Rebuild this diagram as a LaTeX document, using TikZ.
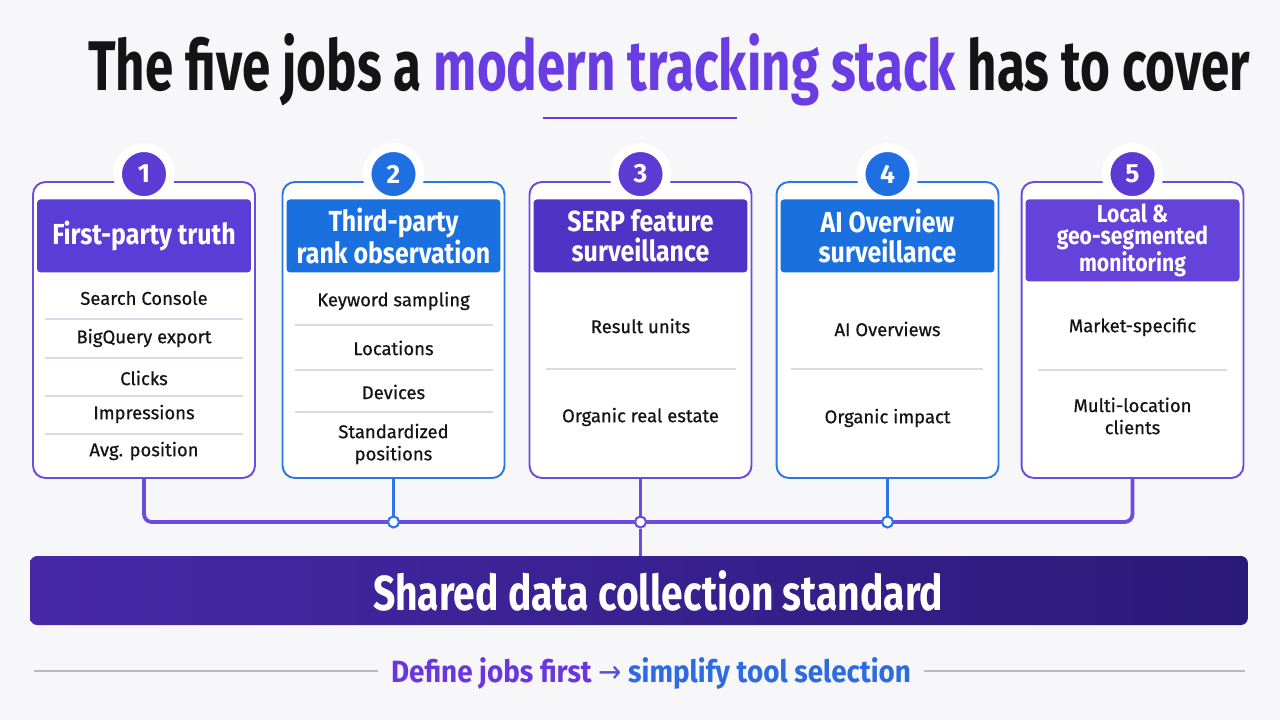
\documentclass[tikz,border=0pt]{standalone}
\usepackage{fontspec}
\usepackage{graphicx}
\setmainfont{Fira Sans}
\newfontfamily\condfont[FakeStretch=0.86]{Fira Sans}
\newfontfamily\itemfont[FakeBold=0.6]{Fira Sans}
\newfontfamily\symfont{DejaVu Sans}
\usetikzlibrary{positioning}

\definecolor{bgc}{HTML}{F7F7FA}
\definecolor{ink}{HTML}{141414}
\definecolor{pviolet}{HTML}{6A3DE2}
\definecolor{cardP}{HTML}{6B4CE0}
\definecolor{cardB}{HTML}{2B78E4}
\definecolor{headP}{HTML}{5A3DD6}
\definecolor{headB}{HTML}{1B70E0}
\definecolor{headPd}{HTML}{4E34C4}
\definecolor{headPl}{HTML}{6543DA}
\definecolor{numP}{HTML}{5B3BD4}
\definecolor{numB}{HTML}{1F6FE3}
\definecolor{barL}{HTML}{4628A8}
\definecolor{barR}{HTML}{2A1A78}
\definecolor{sepc}{HTML}{DADAE2}
\definecolor{rulec}{HTML}{B8B8BE}
\definecolor{footP}{HTML}{6A36E0}
\definecolor{footB}{HTML}{2E6BE0}
\definecolor{footA}{HTML}{5553D8}

\newcommand{\fitw}[2]{\resizebox{#1}{\height}{#2}}

\begin{document}
\begin{tikzpicture}[
    x=0.02cm, y=-0.02cm,
    card/.style={rectangle, draw, line width=1.1pt, rounded corners=7pt, fill=white,
                 minimum width=4.44cm, minimum height=5.92cm},
    head/.style={rectangle, rounded corners=2pt, text=white, align=center,
                 minimum width=4.28cm, minimum height=1.46cm, inner sep=1pt,
                 font=\condfont\bfseries\fontsize{16.5}{17}\selectfont},
    num/.style={circle, draw=white, line width=5pt, text=white, inner sep=0pt,
                minimum size=1.06cm, font=\bfseries\fontsize{15}{15}\selectfont},
    item/.style={text=ink, align=center, inner sep=1pt,
                 font=\itemfont\fontsize{10.5}{12.6}\selectfont},
    sep/.style={draw=sepc, line width=0.6pt},
    bus/.style={draw=cardP, line width=2.2pt, rounded corners=4.5pt},
    wire/.style={line width=1.4pt},
    dot/.style={circle, fill=white, draw, line width=1.2pt, inner sep=0pt, minimum size=0.22cm},
    bar/.style={rectangle, rounded corners=4pt, left color=barL, right color=barR,
                minimum width=24.36cm, minimum height=1.38cm, text=white}
]
\fill[bgc] (0,0) rectangle (1280,720);
\useasboundingbox (0,0) rectangle (1280,720);

% Title and underline
\node[anchor=base, text=ink] (title) at (669,90)
  {\fitw{23.24cm}{\bfseries\fontsize{40}{44}\selectfont The five jobs a \textcolor{pviolet}{modern tracking stack} has to cover}};
\draw[pviolet, line width=1.6pt] (543,118) -- (737,118);

% Five job cards
\node[card, draw=cardP] (c1) at (144,330) {};
\node[card, draw=cardB] (c2) at (393.5,330) {};
\node[card, draw=cardP] (c3) at (640.5,330) {};
\node[card, draw=cardB] (c4) at (887.5,330) {};
\node[card, draw=cardP] (c5) at (1132.5,330) {};

% Numbers sitting on the top edge
\node[num, fill=numP] (n1) at ([yshift=0.14cm]c1.north) {1};
\node[num, fill=numB] (n2) at ([yshift=0.14cm]c2.north) {2};
\node[num, fill=numP] (n3) at ([yshift=0.14cm]c3.north) {3};
\node[num, fill=numB] (n4) at ([yshift=0.14cm]c4.north) {4};
\node[num, fill=numP] (n5) at ([yshift=0.14cm]c5.north) {5};

% Header bands
\node[head, fill=headP, below=0.36cm of c1.north] (h1) {First-party truth};
\node[head, fill=headB, below=0.36cm of c2.north] (h2) {Third-party\\rank observation};
\node[head, fill=headPd, below=0.36cm of c3.north] (h3) {SERP feature\\surveillance};
\node[head, fill=headB, below=0.36cm of c4.north] (h4) {AI Overview\\surveillance};
\node[head, fill=headPl, below=0.36cm of c5.north, minimum height=1.64cm,
      font=\condfont\bfseries\fontsize{14}{12.6}\selectfont] (h5) {Local \&\\geo-segmented\\monitoring};

% Card 1 items
\node[item] (i11) at (144,298) {Search Console};
\node[item] (i12) at (144,338) {BigQuery export};
\node[item] (i13) at (144,378) {Clicks};
\node[item] (i14) at (144,414) {Impressions};
\node[item] (i15) at (144,451) {Avg. position};
\draw[sep] (45,319) -- (243,319);
\draw[sep] (45,358) -- (243,358);
\draw[sep] (45,396) -- (243,396);
\draw[sep] (45,434) -- (243,434);

% Card 2 items
\node[item] (i21) at (393.5,301) {Keyword sampling};
\node[item] (i22) at (393.5,348) {Locations};
\node[item] (i23) at (393.5,392) {Devices};
\node[item] (i24) at (393.5,444) {Standardized\\positions};
\draw[sep] (295,325) -- (493,325);
\draw[sep] (295,370) -- (493,370);
\draw[sep] (295,412) -- (493,412);

% Card 3 items
\node[item] (i31) at (640.5,326) {Result units};
\node[item] (i32) at (640.5,417) {Organic real estate};
\draw[sep] (546,369) -- (736,369);

% Card 4 items
\node[item] (i41) at (887.5,329) {AI Overviews};
\node[item] (i42) at (887.5,418) {Organic impact};
\draw[sep] (791,369) -- (983,369);

% Card 5 items
\node[item] (i51) at (1132.5,327) {Market-specific};
\node[item] (i52) at (1132.5,416) {Multi-location\\clients};
\draw[sep] (1038,370) -- (1227,370);

% Bus joining the cards, junction dots on top of it
\coordinate (busy) at (0,522);
\coordinate (m3) at (c3.south |- busy);
\draw[bus] (c1.south) |- (m3) -| (c5.south);
\draw[wire, cardB] (c2.south) -- (c2.south |- busy);
\draw[wire, cardP] (c3.south) -- (m3);
\draw[wire, cardB] (c4.south) -- (c4.south |- busy);
\node[dot, draw=cardB] (j2) at (c2.south |- busy) {};
\node[dot, draw=cardP] (j3) at (m3) {};
\node[dot, draw=cardB] (j4) at (c4.south |- busy) {};

% Shared standard bar
\node[bar] (base) at (639,590.5)
  {\hspace*{0.76cm}\fitw{11.4cm}{\bfseries\fontsize{28}{30}\selectfont Shared data collection standard}};
\draw[wire, cardP] (j3) -- (base.north -| j3);

% Footer line
\node[inner xsep=7pt] (foot) at (651,673)
  {\fitw{10.4cm}{\bfseries\fontsize{17.5}{20}\selectfont\textcolor{footP}{Define jobs first} \textcolor{footA}{\symfont\mdseries →} \textcolor{footB}{simplify tool selection}}};
\coordinate (rl) at (34,671);
\coordinate (rr) at (1245,671);
\draw[rulec, line width=0.6pt] (rl) -- (rl -| foot.west);
\draw[rulec, line width=0.6pt] (foot.east |- rr) -- (rr);
\end{tikzpicture}
\end{document}
